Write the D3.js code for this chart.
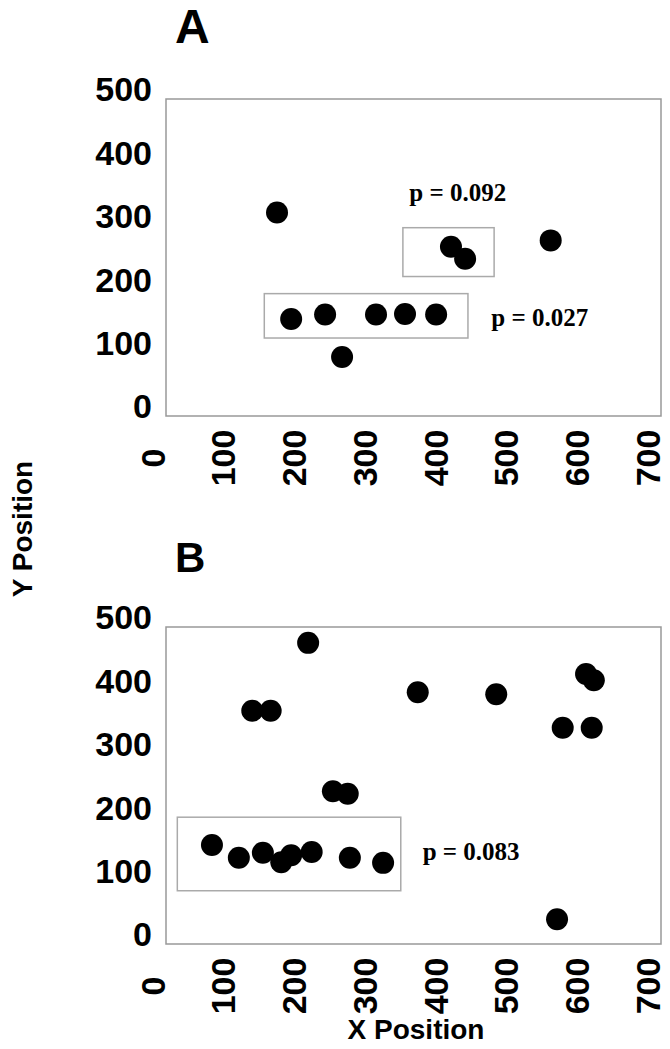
<!DOCTYPE html>
<html>
<head>
<meta charset="utf-8">
<script src="https://cdn.jsdelivr.net/npm/d3@7"></script>
<style>
    body { margin: 0; background: #fff; }
</style>
</head>
<body>
<script>
// panel A points
const aX = [157, 177, 225, 297, 338, 382, 249, 403, 423, 544];
const aY = [321, 153, 160, 160, 161, 160, 93, 267, 248, 277];

// panel B points
const bX = [65, 103, 137, 163, 177, 206, 260, 307, 122, 148, 201, 236, 257, 356, 467, 594, 605, 561, 602, 553];
const bY = [156, 136, 144, 129, 140, 145, 136, 128, 368, 368, 475, 241, 237, 397, 394, 426, 416, 341, 341, 39];

const xTicks = [0, 100, 200, 300, 400, 500, 600, 700];
const yTicks = [0, 100, 200, 300, 400, 500];

// boxes around groups: [x0, x1, y0, y1] in data units
const aBoxes = [[139, 427, 123, 193], [335, 464, 220, 297]];
const bBoxes = [[16, 332, 84, 200]];

// p value notes: [x, y, text]
const aNotes = [[344, 339, 'p = 0.092'], [460, 142, 'p = 0.027']];
const bNotes = [[363, 132, 'p = 0.083']];

const W = 670, H = 1049;
const plotLeft = 166, plotW = 495, plotH = 317;

const svg = d3.select('body')
    .append('svg')
    .attr('width', W)
    .attr('height', H);

const drawPanel = (letter, letterSize, letterY, top, xs, ys, boxes, notes) => {
    const scaleX = d3.scaleLinear()
        .domain([0, 700])
        .range([plotLeft, plotLeft + plotW]);

    const scaleY = d3.scaleLinear()
        .domain([0, 500])
        .range([top + plotH, top]);

    svg.append('text')
        .attr('x', 175)
        .attr('y', letterY)
        .attr('font-family', 'Liberation Sans, Arial, sans-serif')
        .attr('font-weight', 'bold')
        .attr('font-size', letterSize)
        .text(letter);

    svg.append('rect')
        .attr('x', plotLeft)
        .attr('y', top)
        .attr('width', plotW)
        .attr('height', plotH)
        .attr('fill', 'none')
        .attr('stroke', '#999')
        .attr('stroke-width', 1.5);

    // y axis, labels only
    const gY = svg.append('g')
        .attr('transform', 'translate(' + (plotLeft - 14) + ', -9)')
        .call(d3.axisLeft(scaleY).tickValues(yTicks).tickSize(0).tickPadding(0));
    gY.select('.domain').remove();
    gY.selectAll('text')
        .attr('font-family', 'Liberation Sans, Arial, sans-serif')
        .attr('font-weight', 'bold')
        .attr('font-size', 34)
        .attr('fill', '#000');

    // x axis, rotated labels
    svg.append('g')
        .selectAll('text')
        .data(xTicks)
        .enter()
        .append('text')
        .attr('transform', d => 'translate(' + (scaleX(d) - 13.5) + ', ' + (top + plotH + 42) + ') rotate(-90)')
        .attr('text-anchor', 'middle')
        .attr('dy', '0.36em')
        .attr('font-family', 'Liberation Sans, Arial, sans-serif')
        .attr('font-weight', 'bold')
        .attr('font-size', 34)
        .text(d => d);

    svg.append('g')
        .selectAll('rect')
        .data(boxes)
        .enter()
        .append('rect')
        .attr('x', d => scaleX(d[0]))
        .attr('y', d => scaleY(d[3]))
        .attr('width', d => scaleX(d[1]) - scaleX(d[0]))
        .attr('height', d => scaleY(d[2]) - scaleY(d[3]))
        .attr('fill', 'none')
        .attr('stroke', '#aaa')
        .attr('stroke-width', 1.5);

    svg.append('g')
        .selectAll('circle')
        .data(xs)
        .enter()
        .append('circle')
        .attr('cx', d => scaleX(d))
        .attr('cy', (d, i) => scaleY(ys[i]))
        .attr('r', 11)
        .attr('fill', '#000');

    svg.append('g')
        .selectAll('text')
        .data(notes)
        .enter()
        .append('text')
        .attr('x', d => scaleX(d[0]))
        .attr('y', d => scaleY(d[1]))
        .attr('font-family', 'Liberation Serif, Times New Roman, serif')
        .attr('font-weight', 'bold')
        .attr('font-size', 25)
        .text(d => d[2]);
};

drawPanel('A', 48, 43, 99, aX, aY, aBoxes, aNotes);
drawPanel('B', 42, 572, 627, bX, bY, bBoxes, bNotes);

svg.append('text')
    .attr('x', 416)
    .attr('y', 1039)
    .attr('text-anchor', 'middle')
    .attr('font-family', 'Liberation Sans, Arial, sans-serif')
    .attr('font-weight', 'bold')
    .attr('font-size', 28)
    .text('X Position');

svg.append('text')
    .attr('transform', 'translate(32, 529) rotate(-90)')
    .attr('text-anchor', 'middle')
    .attr('font-family', 'Liberation Sans, Arial, sans-serif')
    .attr('font-weight', 'bold')
    .attr('font-size', 28)
    .text('Y Position');
</script>
</body>
</html>
